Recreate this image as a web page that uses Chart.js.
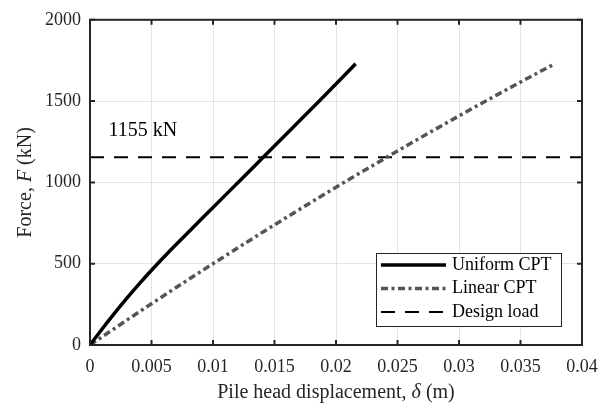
<!DOCTYPE html>
<html>
<head>
<meta charset="utf-8">
<script src="https://cdn.jsdelivr.net/npm/chart.js@4/dist/chart.umd.min.js"></script>
<style>
  html, body { margin: 0; padding: 0; background: #fff; }
  #wrap { width: 613px; height: 406px; }
</style>
</head>
<body>
<div id="wrap"><canvas id="forceChart" width="613" height="406"></canvas></div>
<script>
// Datos
const uniformDisp = [0, 0.001, 0.002, 0.003, 0.004, 0.005, 0.0065, 0.0085, 0.01, 0.0122, 0.0141, 0.0165, 0.0187, 0.0216];
const uniformForce = [0, 100, 196, 288, 376, 460, 580, 732, 846, 1012, 1156, 1338, 1505, 1730];
const linearDisp = [0, 0.005, 0.01, 0.015, 0.02, 0.025, 0.03, 0.035, 0.0378];
const linearForce = [0, 254, 500, 739, 970, 1193, 1409, 1617, 1730];
const designDisp = [0, 0.04];
const designForce = [1155, 1155];
const seriesNames = ['Uniform CPT', 'Linear CPT', 'Design load'];
const xTickLabels = ['0', '0.005', '0.01', '0.015', '0.02', '0.025', '0.03', '0.035', '0.04'];
const yTickLabels = ['0', '500', '1000', '1500', '2000'];
const designLabel = '1155 kN';

const FONT = "'Liberation Serif', 'Times New Roman', serif";
const INK = '#262626';

function toPoints(xs, ys) {
    return xs.map((x, i) => ({ x: x, y: ys[i] }));
}

// Ejes, marcas interiores, leyenda y textos
const decorations = {
    id: 'decorations',
    afterDraw(chart) {
        const ctx = chart.ctx;
        const a = chart.chartArea;
        const xs = chart.scales.x;
        const ys = chart.scales.y;
        ctx.save();

        // marco
        ctx.strokeStyle = INK;
        ctx.lineWidth = 2;
        ctx.setLineDash([]);
        ctx.strokeRect(a.left, a.top, a.right - a.left, a.bottom - a.top);

        // marcas hacia dentro
        const tl = 5;
        xs.ticks.forEach(t => {
            const px = xs.getPixelForValue(t.value);
            ctx.beginPath();
            ctx.moveTo(px, a.bottom); ctx.lineTo(px, a.bottom - tl);
            ctx.moveTo(px, a.top); ctx.lineTo(px, a.top + tl);
            ctx.stroke();
        });
        ys.ticks.forEach(t => {
            const py = ys.getPixelForValue(t.value);
            ctx.beginPath();
            ctx.moveTo(a.left, py); ctx.lineTo(a.left + tl, py);
            ctx.moveTo(a.right, py); ctx.lineTo(a.right - tl, py);
            ctx.stroke();
        });

        // texto de la carga de diseño
        ctx.fillStyle = '#000';
        ctx.font = '20px ' + FONT;
        ctx.textAlign = 'left';
        ctx.textBaseline = 'middle';
        ctx.fillText(designLabel, xs.getPixelForValue(0.0015), ys.getPixelForValue(1315));

        // titulo eje x con delta en cursiva
        ctx.fillStyle = INK;
        ctx.textBaseline = 'alphabetic';
        const xParts = [['Pile head displacement, ', ''], ['\u03b4', 'italic '], [' (m)', '']];
        let total = 0;
        xParts.forEach(p => { ctx.font = p[1] + '20px ' + FONT; total += ctx.measureText(p[0]).width; });
        let cx = (a.left + a.right) / 2 - total / 2;
        xParts.forEach(p => {
            ctx.font = p[1] + '20px ' + FONT;
            ctx.fillText(p[0], cx, 398);
            cx += ctx.measureText(p[0]).width;
        });

        // titulo eje y con F en cursiva
        const yParts = [['Force, ', ''], ['F', 'italic '], [' (kN)', '']];
        total = 0;
        yParts.forEach(p => { ctx.font = p[1] + '20px ' + FONT; total += ctx.measureText(p[0]).width; });
        ctx.save();
        ctx.translate(31, (a.top + a.bottom) / 2);
        ctx.rotate(-Math.PI / 2);
        cx = -total / 2;
        yParts.forEach(p => {
            ctx.font = p[1] + '20px ' + FONT;
            ctx.fillText(p[0], cx, 0);
            cx += ctx.measureText(p[0]).width;
        });
        ctx.restore();

        // leyenda
        const bx = 376, by = 253, bw = 185, bh = 73;
        ctx.fillStyle = '#fff';
        ctx.fillRect(bx, by, bw, bh);
        ctx.strokeStyle = INK;
        ctx.lineWidth = 1;
        ctx.strokeRect(bx + 0.5, by + 0.5, bw, bh);
        ctx.font = '18px ' + FONT;
        ctx.textBaseline = 'middle';
        chart.data.datasets.forEach((ds, i) => {
            const ly = by + 12 + i * 23.5;
            ctx.strokeStyle = ds.borderColor;
            ctx.lineWidth = ds.borderWidth;
            ctx.setLineDash(ds.borderDash || []);
            ctx.beginPath();
            ctx.moveTo(bx + 5, ly);
            ctx.lineTo(bx + 70, ly);
            ctx.stroke();
            ctx.setLineDash([]);
            ctx.fillStyle = '#000';
            ctx.fillText(ds.label, bx + 76, ly);
        });

        ctx.restore();
    }
};

const ctx = document.getElementById('forceChart').getContext('2d');
new Chart(ctx, {
    type: 'scatter',
    data: {
        datasets: [{
            label: seriesNames[0],
            data: toPoints(uniformDisp, uniformForce),
            showLine: true,
            borderColor: '#000',
            borderWidth: 3.5,
            pointRadius: 0,
            cubicInterpolationMode: 'monotone'
        }, {
            label: seriesNames[1],
            data: toPoints(linearDisp, linearForce),
            showLine: true,
            borderColor: '#555555',
            borderWidth: 3.5,
            borderDash: [7, 3.5, 3, 3.5],
            pointRadius: 0,
            cubicInterpolationMode: 'monotone'
        }, {
            label: seriesNames[2],
            data: toPoints(designDisp, designForce),
            showLine: true,
            borderColor: '#000',
            borderWidth: 2,
            borderDash: [14, 10],
            pointRadius: 0
        }]
    },
    options: {
        responsive: false,
        animation: false,
        layout: { padding: { top: 12, right: 31, left: 0, bottom: 0 } },
        plugins: {
            legend: { display: false },
            tooltip: { enabled: false }
        },
        scales: {
            x: {
                type: 'linear',
                min: 0,
                max: 0.04,
                afterBuildTicks: s => { s.ticks = xTickLabels.map(v => ({ value: Number(v) })); },
                afterFit: s => { s.height = 61; },
                grid: { color: '#e3e3e3', lineWidth: 1, drawTicks: false },
                border: { display: false },
                ticks: {
                    padding: 11,
                    color: INK,
                    font: { family: FONT, size: 18 },
                    callback: (v, i) => xTickLabels[i]
                }
            },
            y: {
                min: 0,
                max: 2000,
                afterBuildTicks: s => { s.ticks = yTickLabels.map(v => ({ value: Number(v) })); },
                afterFit: s => { s.width = 90; },
                grid: { color: '#e3e3e3', lineWidth: 1, drawTicks: false },
                border: { display: false },
                ticks: {
                    padding: 9,
                    color: INK,
                    font: { family: FONT, size: 18 },
                    callback: (v, i) => yTickLabels[i]
                }
            }
        }
    },
    plugins: [decorations]
});
</script>
</body>
</html>
